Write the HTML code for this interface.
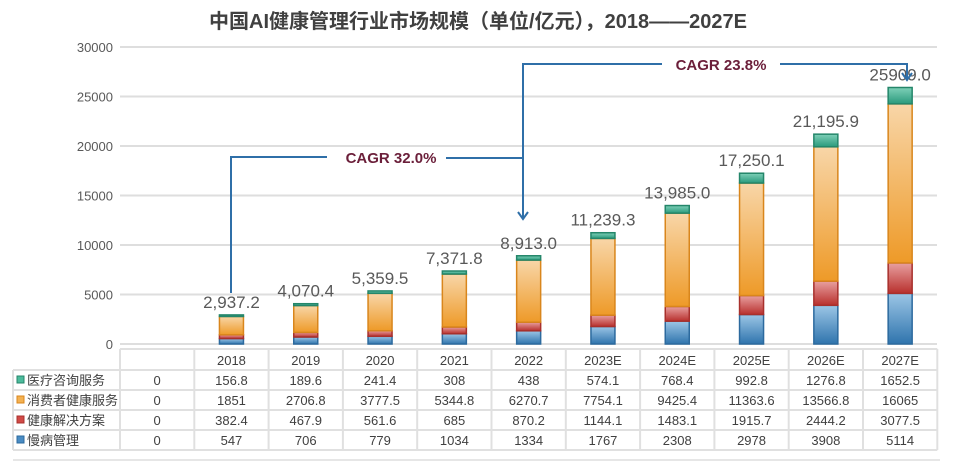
<!DOCTYPE html>
<html><head><meta charset="utf-8">
<style>
body{margin:0;background:#fff;width:956px;height:462px;overflow:hidden;font-family:"Liberation Sans","Noto Sans CJK SC",sans-serif;}
svg text{font-family:"Liberation Sans","Noto Sans CJK SC",sans-serif;}
</style></head>
<body>
<svg id="chart" width="956" height="462" xmlns="http://www.w3.org/2000/svg">
<defs>
<linearGradient id="gB" x1="0" y1="0" x2="0" y2="1"><stop offset="0" stop-color="#9cc6e6"/><stop offset="1" stop-color="#2f74ad"/></linearGradient>
<linearGradient id="gR" x1="0" y1="0" x2="0" y2="1"><stop offset="0" stop-color="#e8a0a0"/><stop offset="1" stop-color="#b8302d"/></linearGradient>
<linearGradient id="gO" x1="0" y1="0" x2="0" y2="1"><stop offset="0" stop-color="#f8d6a8"/><stop offset="1" stop-color="#ee9a28"/></linearGradient>
<linearGradient id="gG" x1="0" y1="0" x2="0" y2="1"><stop offset="0" stop-color="#7fd0b8"/><stop offset="1" stop-color="#2a9a7c"/></linearGradient>
</defs>
<text x="478" y="28" text-anchor="middle" font-size="20" font-weight="bold" fill="#404040">中国AI健康管理行业市场规模（单位/亿元），2018——2027E</text>
<g id="grid"></g><g id="bars"></g><g id="table"></g>
<g stroke="#2f6fa8" stroke-width="2" fill="none">
<polyline points="231,293 231,157 327,157"/>
<polyline points="446,158 523,158"/>
<polyline points="523,218 523,64 662,64"/>
<polyline points="780,64 907,64 907,79"/>
<polyline points="518,212 523,219 528,212"/>
<polyline points="902,73 907,80 912,73"/>
</g>
<text x="391" y="163" text-anchor="middle" font-size="15" font-weight="bold" fill="#6b1f3a">CAGR 32.0%</text>
<text x="721" y="70" text-anchor="middle" font-size="15" font-weight="bold" fill="#6b1f3a">CAGR 23.8%</text>
</svg>
<script>
const categories=["","2018","2019","2020","2021","2022","2023E","2024E","2025E","2026E","2027E"];
const chronic=[0,547,706,779,1034,1334,1767,2308,2978,3908,5114];
const solutions=[0,382.4,467.9,561.6,685,870.2,1144.1,1483.1,1915.7,2444.2,3077.5];
const consumer=[0,1851,2706.8,3777.5,5344.8,6270.7,7754.1,9425.4,11363.6,13566.8,16065];
const consult=[0,156.8,189.6,241.4,308,438,574.1,768.4,992.8,1276.8,1652.5];
const totals=["","2,937.2","4,070.4","5,359.5","7,371.8","8,913.0","11,239.3","13,985.0","17,250.1","21,195.9","25909.0"];
const yTicks=[0,5000,10000,15000,20000,25000,30000];
const seriesNames=["医疗咨询服务","消费者健康服务","健康解决方案","慢病管理"];
const NS="http://www.w3.org/2000/svg";
const y0=344,yTop=47,yMax=30000,x0=120,colW=74.3;
const yS=v=>y0-(v/yMax)*(y0-yTop);
const xC=i=>x0+colW*(i+0.5);
function mk(tag,attrs,parent,txt){const e=document.createElementNS(NS,tag);for(const k in attrs)e.setAttribute(k,attrs[k]);if(txt!==undefined)e.textContent=txt;parent.appendChild(e);return e;}
const grid=document.getElementById('grid');
yTicks.forEach(t=>{
 const l=mk('line',{x1:x0,x2:937,y1:yS(t),y2:yS(t),stroke:'#dedede','stroke-width':2},grid);
 
 
 const tx=mk('text',{x:113,y:yS(t)+5,'text-anchor':'end','font-size':13,fill:'#595959'},grid,String(t));
 
 
});
const bars=document.getElementById('bars');
const defs=[[chronic,'url(#gB)','#2c6a9e'],[solutions,'url(#gR)','#a8302c'],[consumer,'url(#gO)','#d9861c'],[consult,'url(#gG)','#24866a']];
categories.forEach((c,i)=>{
 if(i===0)return;
 let acc=0;const w=24,x=xC(i)-w/2;
 defs.forEach(([arr,fill,stroke],k)=>{
  const v=arr[i];const yT=yS(acc+v),yB=yS(acc);
  const r=mk('rect',{x:x,y:yT,width:w,height:Math.max(yB-yT,0.5),fill:fill,stroke:stroke,'stroke-width':1.5},bars);
  
  
  acc+=v;
 });
 const t=mk('text',{x:xC(i),y:yS(acc)-7,'text-anchor':'middle','font-size':17,fill:'#595959'},bars,totals[i]);
 
 
});
const tb=document.getElementById('table');
const rowsY=[349,370,390,410,430,450];
const colX=[13,120];for(let i=1;i<=categories.length;i++)colX.push(x0+colW*i);
const lc='#e0e0e0';
mk('line',{x1:x0,x2:colX[colX.length-1],y1:349,y2:349,stroke:lc,'stroke-width':2},tb);
rowsY.slice(1).forEach(y=>mk('line',{x1:13,x2:colX[colX.length-1],y1:y,y2:y,stroke:lc,'stroke-width':2},tb));
colX.forEach((x,j)=>mk('line',{x1:x,x2:x,y1:j===0?370:349,y2:450,stroke:lc,'stroke-width':2},tb));
mk('line',{x1:13,x2:940,y1:460,y2:460,stroke:'#e6e6e6','stroke-width':2},tb);
categories.forEach((c,i)=>{const t=mk('text',{x:xC(i),y:365,'text-anchor':'middle','font-size':13,fill:'#404040'},tb,c);
 
 });
const rowData=[consult,consumer,solutions,chronic];
const sw=[['#4cbb9c','#24866a'],['#f3b152','#d9861c'],['#d14a46','#a8302c'],['#4a8cc4','#2c6a9e']];
rowData.forEach((arr,r)=>{
 const yy=rowsY[r+1]+15;
 mk('rect',{x:17,y:yy-9,width:7,height:7,fill:sw[r][0],stroke:sw[r][1],'stroke-width':1},tb);
 const n=mk('text',{x:27,y:yy,'font-size':13,fill:'#404040'},tb,seriesNames[r]);
 
 
 arr.forEach((v,i)=>{const t=mk('text',{x:xC(i),y:yy,'text-anchor':'middle','font-size':13,fill:'#404040'},tb,String(v));
  
  });
});
</script>
</body></html>
